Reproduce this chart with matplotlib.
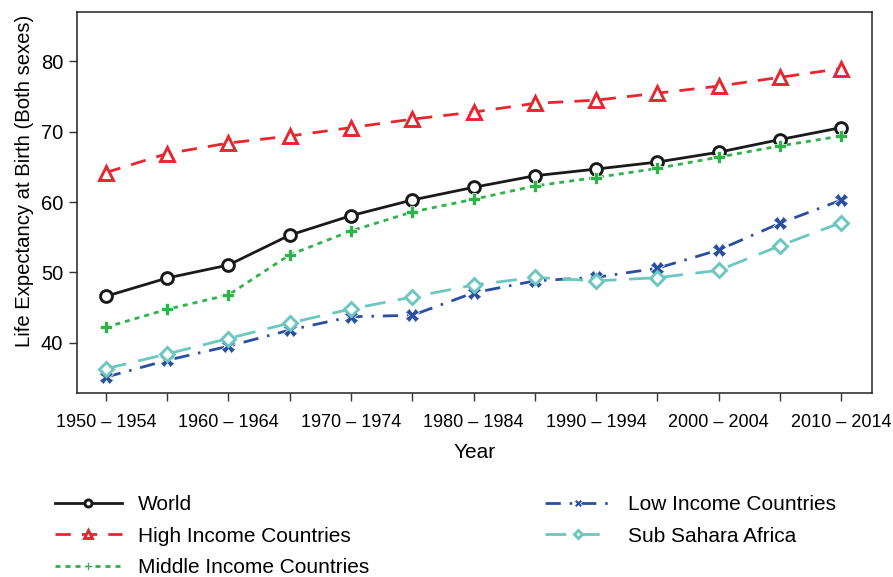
import matplotlib
matplotlib.use('Agg')
from matplotlib import pyplot as plt

plt.rcParams['font.family'] = ['Liberation Sans', 'DejaVu Sans']

periods = ['1950 – 1954', '1955 – 1959', '1960 – 1964', '1965 – 1969', '1970 – 1974',
           '1975 – 1979', '1980 – 1984', '1985 – 1989', '1990 – 1994', '1995 – 1999',
           '2000 – 2004', '2005 – 2009', '2010 – 2014']

world = [46.6, 49.2, 51.05, 55.3, 58.07, 60.3, 62.1, 63.75, 64.7, 65.7, 67.1, 68.9, 70.6]
high_income = [64.2, 66.9, 68.4, 69.4, 70.6, 71.8, 72.8, 74.05, 74.5, 75.5, 76.5, 77.75, 79.0]
middle_income = [42.2, 44.75, 46.8, 52.5, 55.9, 58.6, 60.4, 62.3, 63.5, 64.8, 66.4, 68.0, 69.4]
low_income = [35.1, 37.5, 39.5, 41.8, 43.7, 43.9, 47.1, 48.8, 49.3, 50.6, 53.2, 57.0, 60.3]
sub_sahara = [36.3, 38.4, 40.6, 42.8, 44.8, 46.5, 48.2, 49.3, 48.8, 49.25, 50.3, 53.8, 57.1]

x = list(range(len(periods)))

fig = plt.figure(figsize=(8.93, 5.77), dpi=100)
ax = fig.add_axes([0.0862, 0.3189, 0.8903, 0.6603])

lw = 2.0
ms = 8.5
mew = 2.1

l_world, = ax.plot(x, world, color='#1a1a1a', lw=lw, ls='-', marker='o', ms=ms,
                   mfc='white', mec='#1a1a1a', mew=mew, label='World')
l_high, = ax.plot(x, high_income, color='#e8262f', lw=lw, ls=(0, (5.5, 4)), marker='^',
                  ms=ms + 1, mfc='white', mec='#e8262f', mew=mew, label='High Income Countries')
l_mid, = ax.plot(x, middle_income, color='#2db34a', lw=lw, ls=(0, (1.8, 1.8)), marker='P',
                 ms=ms + 0.5, mfc='#2db34a', mec='white', mew=0.5, label='Middle Income Countries')
l_low, = ax.plot(x, low_income, color='#2a4fa0', lw=lw, ls=(0, (5.5, 3.2, 0.9, 3.2)), marker='X',
                 ms=ms + 1, mfc='#2a4fa0', mec='white', mew=0.5, label='Low Income Countries')
l_ssa, = ax.plot(x, sub_sahara, color='#6cc7c0', lw=lw, ls=(0, (7.5, 4.5)), marker='D',
                 ms=ms - 1.5, mfc='white', mec='#6cc7c0', mew=mew, label='Sub Sahara Africa')

ax.set_xlim(-0.47, 12.5)
ax.set_ylim(32.85, 87.04)
ax.set_yticks([40, 50, 60, 70, 80])
ax.set_xticks(x)
ax.set_xticklabels([p if i % 2 == 0 else '' for i, p in enumerate(periods)])
ax.tick_params(axis='both', length=6, width=1, color='#333333')
ax.tick_params(axis='x', labelsize=13, pad=9)
ax.tick_params(axis='y', labelsize=14.5, pad=4)
for s in ax.spines.values():
    s.set_linewidth(1.1)
    s.set_color('#222222')

ax.set_xlabel('Year', fontsize=15, labelpad=9)
ax.set_ylabel('Life Expectancy at Birth (Both sexes)', fontsize=14.6)
# label sits a little above the axes centre
ax.yaxis.set_label_coords(-0.054, 0.556)

leg_kw = dict(frameon=False, fontsize=15, handlelength=3.2, handletextpad=0.8,
              labelspacing=0.6, borderpad=0, borderaxespad=0, markerscale=0.6,
              loc='upper left')
fig.legend(handles=[l_world, l_high, l_mid], bbox_to_anchor=(0.0616, 0.142), **leg_kw)
fig.legend(handles=[l_low, l_ssa], bbox_to_anchor=(0.610, 0.142), **leg_kw)

fig.savefig('out.png', dpi=100)
